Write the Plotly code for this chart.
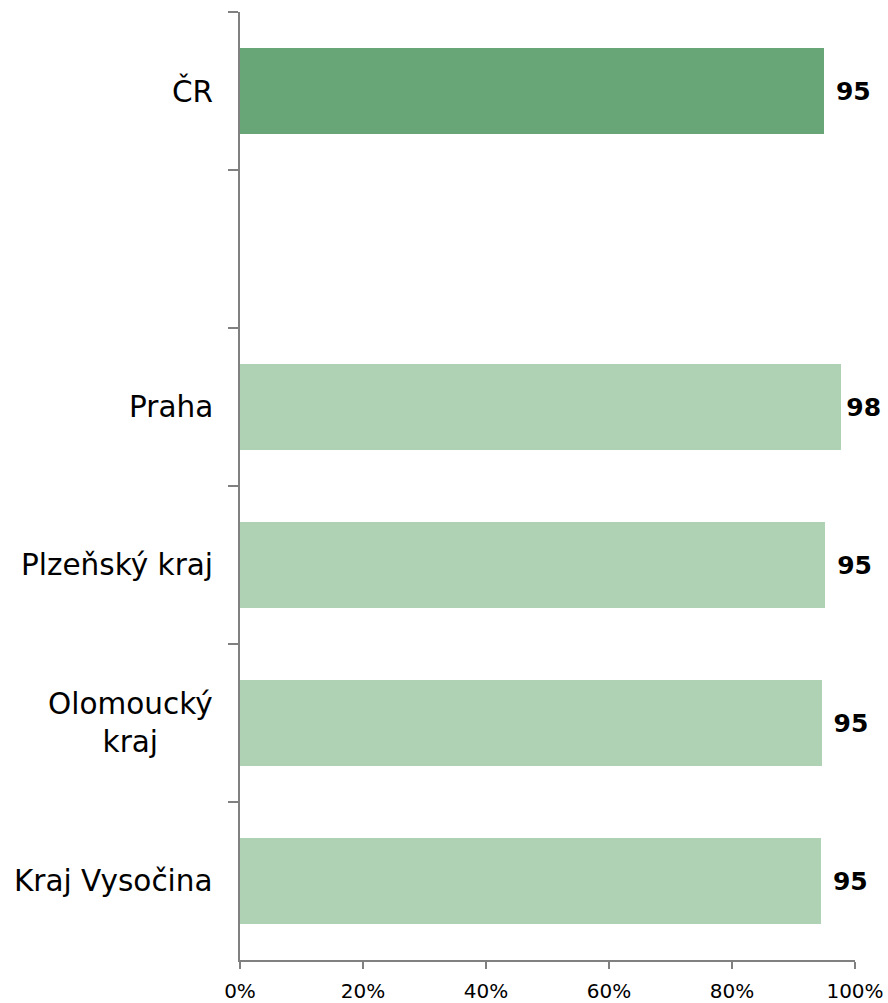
import plotly.graph_objects as go

categories = ["ČR", " ", "Praha", "Plzeňský kraj", "Olomoucký kraj", "Kraj Vysočina"]
label_text = ["ČR", "", "Praha", "Plzeňský kraj", "Olomoucký<br>kraj", "Kraj Vysočina"]
values = [95.0, None, 97.7, 95.2, 94.6, 94.5]
value_labels = ["95", "", "98", "95", "95", "95"]
label_lead = ["\u00a0", "", "\u200a", "\u00a0", "\u00a0", "\u00a0"]
x_ticks = [0, 20, 40, 60, 80, 100]

DARK = "#68A677"
LIGHT = "#AED2B3"
colors = [DARK, LIGHT, LIGHT, LIGHT, LIGHT, LIGHT]
FONT = "DejaVu Sans"

fig = go.Figure()
fig.add_trace(go.Bar(
    y=categories,
    x=values,
    orientation="h",
    width=0.54,
    marker=dict(color=colors, line=dict(width=0)),
    text=[(lead + t) if t else "" for lead, t in zip(label_lead, value_labels)],
    textposition="outside",
    textfont=dict(family=FONT, size=25, color="black", weight="bold"),
    cliponaxis=False,
    hoverinfo="skip",
))

for cat, lab in zip(categories, label_text):
    if not lab:
        continue
    fig.add_annotation(
        x=0, xref="paper", y=cat, yref="y",
        text=lab, showarrow=False, xanchor="right", yanchor="middle",
        align="center", xshift=-25,
        font=dict(family=FONT, size=29.5, color="black"),
    )

fig.update_layout(
    width=888, height=1003,
    margin=dict(l=240, r=33, t=12, b=43, autoexpand=False),
    plot_bgcolor="white", paper_bgcolor="white",
    showlegend=False,
    font=dict(family=FONT, color="black"),
    bargap=0,
)
fig.update_xaxes(
    range=[0, 100], tickvals=x_ticks, ticktext=[f"{v}%" for v in x_ticks],
    automargin=False, ticklabeloverflow="allow",
    showgrid=False, zeroline=False,
    showline=True, linecolor="#808080", linewidth=2,
    ticks="outside", ticklen=7, tickcolor="#808080", tickwidth=2,
    ticklabelstandoff=5,
    tickfont=dict(family=FONT, size=20, color="black"),
)
fig.update_yaxes(
    type="category", categoryorder="array", categoryarray=categories,
    range=[5.5, -0.5],
    automargin=False,
    tickson="boundaries",
    showticklabels=False,
    showgrid=False, zeroline=False,
    showline=True, linecolor="#808080", linewidth=2,
    ticks="outside", ticklen=10, tickcolor="#808080", tickwidth=2,
)

# remove the page's default body margin so the figure fills the window exactly
fig.write_html(
    "out.html",
    config={"displayModeBar": False, "staticPlot": True},
    post_script="document.body.style.margin='0';document.body.style.overflow='hidden';",
)
